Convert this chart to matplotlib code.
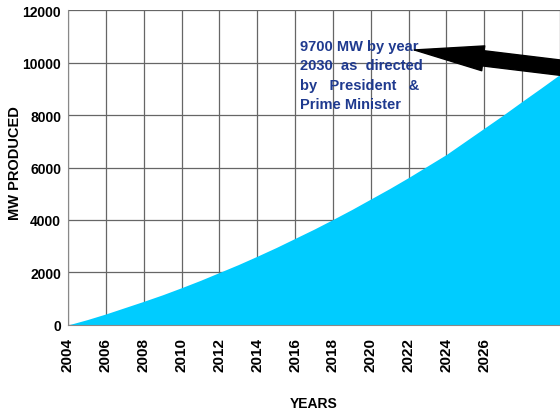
import matplotlib
matplotlib.use("Agg")
import matplotlib.pyplot as plt

years = [2004, 2005, 2006, 2007, 2008, 2009, 2010, 2011, 2012, 2013, 2014, 2015, 2016, 2017,
         2018, 2019, 2020, 2021, 2022, 2023, 2024, 2025, 2026, 2027, 2028, 2029, 2030]
mw = [0, 200, 420, 660, 900, 1150, 1420, 1700, 2000, 2300, 2620, 2950, 3300, 3650,
      4020, 4400, 4800, 5200, 5620, 6060, 6500, 7000, 7500, 8000, 8520, 9030, 9550]
tick_years = list(range(2004, 2031, 2))
tick_labels = [str(y) if y <= 2026 else "" for y in tick_years]
y_ticks = [0, 2000, 4000, 6000, 8000, 10000, 12000]
note = "9700 MW by year\n2030  as  directed\nby   President   &\nPrime Minister"

plt.rcParams['font.family'] = ['Liberation Sans', 'DejaVu Sans']

fig = plt.figure(figsize=(5.6, 4.1), dpi=100)
ax = fig.add_axes([0.1214, 0.205, 0.8786, 0.768])

ax.fill_between(years, mw, 0, color="#00CCFF", zorder=2, linewidth=0)
ax.set_xlim(2004, 2029.9)
ax.set_ylim(0, 12000)
ax.set_xticks(tick_years)
ax.set_xticklabels(tick_labels, rotation=90, fontsize=11, fontweight="bold")
ax.set_yticks(y_ticks)
ax.set_yticklabels([str(v) for v in y_ticks], fontsize=10, fontweight="bold")
ax.tick_params(axis="x", length=0, pad=9)
ax.tick_params(axis="y", length=0, pad=5)
ax.grid(True, color="#666666", linewidth=0.9, zorder=1)
ax.set_axisbelow(True)
for s in ["top", "right"]:
    ax.spines[s].set_visible(False)
ax.spines["left"].set_color("#888888")
ax.spines["bottom"].set_color("#888888")

fig.text(15 / 560, 1 - 163 / 410, "MW PRODUCED", rotation=90, fontsize=10.5,
         fontweight="bold", ha="center", va="center")
ax.set_xlabel("YEARS", fontsize=10, fontweight="bold", labelpad=18)

ax.text(2016.25, 10900, note, color="#1F3A8F", fontsize=10.5, fontweight="bold",
        va="top", ha="left", linespacing=1.5, zorder=4)
ax.annotate("", xy=(2022.3, 10480), xytext=(2030.3, 9780),
            arrowprops=dict(arrowstyle="simple,head_length=5.0,head_width=1.8,tail_width=1.1",
                            color="black", shrinkA=0, shrinkB=0),
            annotation_clip=False, zorder=5)

fig.savefig("out.png", dpi=100)
